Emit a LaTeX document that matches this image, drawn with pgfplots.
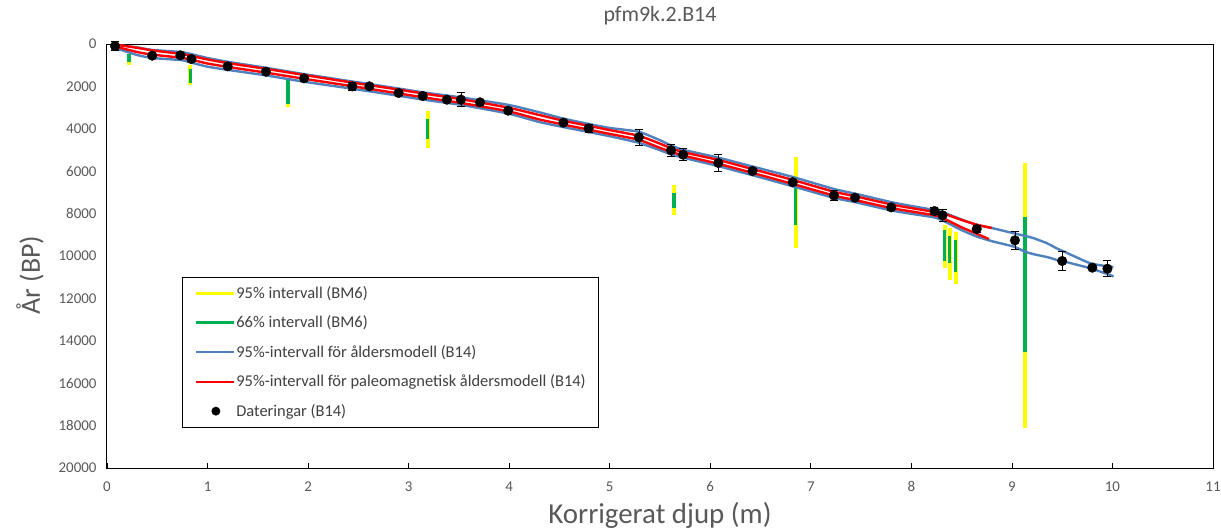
\documentclass[border=0pt]{standalone}
\usepackage{fontspec}
\setmainfont{Carlito}
\usepackage{pgfplots}
\pgfplotsset{compat=1.18}
\definecolor{yel}{RGB}{255,255,0}
\definecolor{grn}{RGB}{0,176,80}
\definecolor{blu}{RGB}{79,129,189}
\definecolor{txt}{RGB}{89,89,89}
\definecolor{legtxt}{RGB}{64,64,64}
\pgfplotsset{
  ybar95/.style={yel, line width=4bp, forget plot},
  gbar66/.style={grn, line width=3.5bp, forget plot},
}
\begin{document}
\begin{tikzpicture}
\useasboundingbox (-107bp,-63bp) rectangle (1114bp,468bp);
\begin{axis}[
  at={(0,0)}, anchor=south west,
  scale only axis, width=1106bp, height=424bp,
  xmin=0, xmax=11, ymin=0, ymax=20000, y dir=reverse,
  xtick={0,1,...,11}, ytick={0,2000,...,20000},
  tick pos=left, tick align=inside,
  ytick style={draw=none},
  xtick style={black, line width=0.8bp},
  major tick length=5bp,
  axis line style={black, line width=1bp},
  ticklabel style={font=\fontsize{15}{18}\selectfont, text=txt},
  xticklabel style={yshift=-10bp},
  yticklabel style={xshift=-7bp},
  /pgf/number format/.cd, 1000 sep={}, assume math mode=true, /pgfplots/.cd,
  scaled y ticks=false,
  title={pfm9k.2.B14},
  title style={at={(axis description cs:0.5,1.052)}, anchor=center, font=\fontsize{22}{26}\selectfont, text=txt},
  xlabel={Korrigerat djup (m)},
  xlabel style={at={(axis description cs:0.5,-0.111)}, anchor=center, font=\fontsize{29}{34}\selectfont, text=txt},
  ylabel={År (BP)},
  ylabel style={at={(axis description cs:-0.0696,0.455)}, anchor=center, rotate=0, font=\fontsize{28}{33}\selectfont, text=txt},
  legend style={at={(axis description cs:0.0678,0.4505)}, anchor=north west,
    draw=black, line width=0.8bp, fill=white,
    font=\fontsize{16.5}{19}\selectfont, text=legtxt,
    row sep=12bp, inner xsep=12bp, inner ysep=7bp,
    nodes={inner xsep=1bp}},
  legend cell align=left,
  clip=false,
]
% legend entries
\addlegendimage{legend image code/.code={\draw[yel, line width=3bp] (0bp,0bp) -- (38bp,0bp);}}
\addlegendentry{95\% intervall (BM6)}
\addlegendimage{legend image code/.code={\draw[grn, line width=3bp] (0bp,0bp) -- (38bp,0bp);}}
\addlegendentry{66\% intervall (BM6)}
\addlegendimage{legend image code/.code={\draw[blu, line width=2bp] (0bp,0bp) -- (38bp,0bp);}}
\addlegendentry{95\%-intervall för åldersmodell (B14)}
\addlegendimage{legend image code/.code={\draw[red, line width=2bp] (0bp,0bp) -- (38bp,0bp);}}
\addlegendentry{95\%-intervall för paleomagnetisk åldersmodell (B14)}
\addlegendimage{legend image code/.code={\fill[black] (20bp,0bp) circle (4bp);}}
\addlegendentry{Dateringar (B14)}

% 95% intervals (yellow)
\addplot[ybar95] coordinates {(0.22,450) (0.22,1000)};
\addplot[ybar95] coordinates {(0.83,1000) (0.83,1930)};
\addplot[ybar95] coordinates {(1.80,1650) (1.80,2950)};
\addplot[ybar95] coordinates {(3.19,3150) (3.19,4920)};
\addplot[ybar95] coordinates {(5.64,6650) (5.64,8060)};
\addplot[ybar95] coordinates {(6.85,5320) (6.85,9640)};
\addplot[ybar95] coordinates {(8.33,8550) (8.33,10580)};
\addplot[ybar95] coordinates {(8.38,8700) (8.38,11150)};
\addplot[ybar95] coordinates {(8.44,8850) (8.44,11320)};
\addplot[ybar95] coordinates {(9.13,5630) (9.13,18130)};
% 66% intervals (green)
\addplot[gbar66] coordinates {(0.22,470) (0.22,860)};
\addplot[gbar66] coordinates {(0.83,1200) (0.83,1820)};
\addplot[gbar66] coordinates {(1.80,1650) (1.80,2830)};
\addplot[gbar66] coordinates {(3.19,3550) (3.19,4480)};
\addplot[gbar66] coordinates {(5.64,7020) (5.64,7750)};
\addplot[gbar66] coordinates {(6.85,6500) (6.85,8540)};
\addplot[gbar66] coordinates {(8.33,8780) (8.33,10220)};
\addplot[gbar66] coordinates {(8.38,9050) (8.38,10340)};
\addplot[gbar66] coordinates {(8.44,9250) (8.44,10740)};
\addplot[gbar66] coordinates {(9.13,8180) (9.13,14520)};

% blue age model 95% bounds
\addplot[blu, line width=2.4bp, smooth, tension=0.3, forget plot] coordinates {
(0.05,20) (0.30,160) (0.45,280) (0.74,380) (0.84,480) (1.00,660) (1.20,840)
(1.58,1120) (1.96,1420) (2.44,1770) (2.90,2100) (3.14,2280) (3.52,2520)
(3.99,2870) (4.30,3220) (4.54,3520) (4.79,3770) (5.00,3960) (5.29,4140)
(5.50,4540) (5.61,4790) (5.73,4990) (6.08,5360) (6.42,5780) (6.82,6270)
(7.23,6840) (7.44,7060) (7.80,7460) (8.00,7640) (8.23,7830) (8.31,7930)
(8.50,8280) (8.65,8540) (8.80,8680) (9.02,8930) (9.13,9050) (9.22,9165)
(9.35,9400) (9.45,9650) (9.52,9795) (9.78,10345) (9.98,10505) (10.01,10520)};
\addplot[blu, line width=2.4bp, smooth, tension=0.3, forget plot] coordinates {
(0.05,140) (0.30,520) (0.45,660) (0.74,760) (0.84,880) (1.00,1070) (1.20,1220)
(1.58,1480) (1.96,1780) (2.44,2110) (2.90,2440) (3.14,2620) (3.52,2870)
(3.99,3280) (4.30,3680) (4.54,3920) (4.79,4150) (5.00,4350) (5.29,4660)
(5.50,5010) (5.61,5210) (5.73,5360) (6.08,5760) (6.42,6190) (6.82,6710)
(7.23,7260) (7.44,7460) (7.80,7850) (8.00,8010) (8.23,8180) (8.31,8320)
(8.50,8780) (8.65,9080) (8.80,9300) (9.02,9560) (9.13,9795) (9.22,9920)
(9.35,10050) (9.45,10190) (9.52,10260) (9.78,10580) (9.98,10900) (10.01,10975)};
% red paleomagnetic model 95% bounds
\addplot[red, line width=2.4bp, smooth, tension=0.3, forget plot] coordinates {
(0.05,0) (0.30,180) (0.45,300) (0.74,470) (0.84,560) (1.00,730) (1.20,900)
(1.58,1170) (1.96,1460) (2.44,1820) (2.90,2150) (3.14,2330) (3.52,2600)
(3.99,3000) (4.30,3350) (4.54,3620) (4.79,3860) (5.00,4060) (5.29,4330)
(5.50,4700) (5.61,4920) (5.73,5100) (6.08,5470) (6.42,5900) (6.82,6410)
(7.23,6970) (7.44,7180) (7.80,7570) (8.00,7740) (8.23,7920) (8.31,7980)
(8.50,8300) (8.65,8520) (8.80,8680)};
\addplot[red, line width=2.4bp, smooth, tension=0.3, forget plot] coordinates {
(0.05,80) (0.30,380) (0.45,500) (0.74,650) (0.84,740) (1.00,920) (1.20,1080)
(1.58,1350) (1.96,1640) (2.44,1990) (2.90,2330) (3.14,2510) (3.52,2780)
(3.99,3170) (4.30,3560) (4.54,3800) (4.79,4040) (5.00,4240) (5.29,4520)
(5.50,4900) (5.61,5080) (5.73,5260) (6.08,5650) (6.42,6080) (6.82,6600)
(7.23,7150) (7.44,7360) (7.80,7740) (8.00,7900) (8.23,8080) (8.31,8200)
(8.50,8650) (8.65,8950) (8.77,9200)};

% datings
\addplot[only marks, mark=*, mark size=4.8bp, black, forget plot,
  error bars/.cd, y dir=both, y explicit,
  error bar style={black, line width=0.5bp},
  error mark=-,
  error mark options={black, line width=0.8bp, mark size=4bp, rotate=90}]
coordinates {
(0.08,100) +- (0,200)
(0.45,550) +- (0,80)
(0.73,535) +- (0,80)
(0.84,708) +- (0,100)
(1.20,1053) +- (0,100)
(1.58,1305) +- (0,80)
(1.96,1620) +- (0,100)
(2.44,1997) +- (0,180)
(2.61,1997) +- (0,100)
(2.90,2310) +- (0,100)
(3.14,2450) +- (0,180)
(3.38,2625) +- (0,100)
(3.52,2625) +- (0,320)
(3.71,2750) +- (0,100)
(3.99,3145) +- (0,150)
(4.54,3710) +- (0,100)
(4.79,3980) +- (0,200)
(5.29,4400) +- (0,380)
(5.61,5015) +- (0,280)
(5.73,5220) +- (0,280)
(6.08,5610) +- (0,420)
(6.42,5990) +- (0,100)
(6.82,6520) +- (0,150)
(7.23,7150) +- (0,250)
(7.44,7250) +- (0,150)
(7.80,7705) +- (0,150)
(8.23,7880) +- (0,150)
(8.31,8080) +- (0,280)
(8.65,8725) +- (0,150)
(9.03,9260) +- (0,420)
(9.50,10235) +- (0,450)
(9.80,10550) +- (0,100)
(9.95,10600) +- (0,370)
};
\end{axis}
\end{tikzpicture}
\end{document}
